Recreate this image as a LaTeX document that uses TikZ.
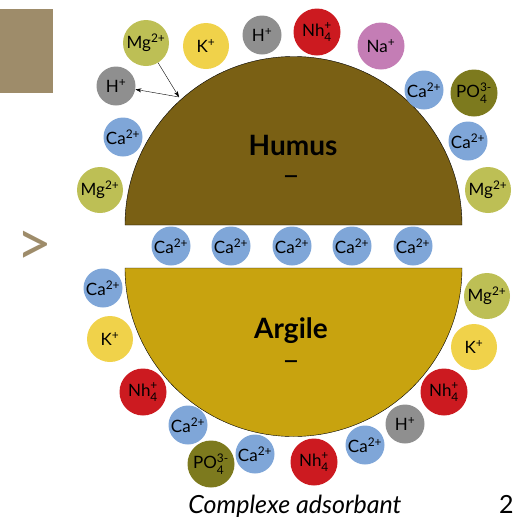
\documentclass[tikz,border=0pt]{standalone}
\usepackage{amsmath}
\usepackage{fontspec}
\setmainfont{Lato}
\usetikzlibrary{arrows.meta}
\definecolor{humusbrown}{HTML}{7A6014}
\definecolor{argilegold}{HTML}{C8A30F}
\definecolor{cablue}{HTML}{7FA6D8}
\definecolor{mggreen}{HTML}{BDBF55}
\definecolor{kyellow}{HTML}{F0D24A}
\definecolor{hgrey}{HTML}{8F8F8F}
\definecolor{nhred}{HTML}{CC1A20}
\definecolor{napink}{HTML}{C47DB5}
\definecolor{poolive}{HTML}{7D7A1E}
\definecolor{tabtan}{HTML}{9E8C6A}
\begin{document}
\begin{tikzpicture}[
        x=1pt, y=-1pt,
        ion/.style={circle, inner sep=0pt, font=\fontsize{17}{17}\selectfont},
        caion/.style={ion, fill=cablue, minimum size=39pt},
        mgion/.style={ion, fill=mggreen, minimum size=46pt},
        kion/.style={ion, fill=kyellow, minimum size=46pt},
        hion/.style={ion, fill=hgrey, minimum size=39pt},
        nhion/.style={ion, fill=nhred, minimum size=47pt},
        naion/.style={ion, fill=napink, minimum size=47pt},
        poion/.style={ion, fill=poolive, minimum size=47pt},
        title/.style={font=\fontsize{28}{28}\selectfont\bfseries, anchor=base},
        charge/.style={font=\fontsize{30}{30}\selectfont},
        exch/.style={-{Stealth[length=6pt,width=4pt]}, thin}
    ]
    \useasboundingbox (0,0) rectangle (514,517);

    \fill[tabtan] (0,9) rectangle (53,93);
    \node[text=tabtan, font=\fontsize{62}{62}\selectfont] (next) at (34,248) {>};

    \draw[fill=humusbrown, thin] (125,225) arc (180:360:168.5) -- cycle;
    \draw[fill=argilegold, thin] (125,268) arc (180:0:168.5) -- cycle;

    \node[title] (humus) at (293,155) {Humus};
    \node[charge] (humusq) at (291,181) {–};
    \node[title] (argile) at (291,338) {Argile};
    \node[charge] (argileq) at (291,366) {–};

    \node[mgion] (mgA) at (146,43) {Mg\textsuperscript{2+}};
    \node[kion] (kA) at (206,46) {K\textsuperscript{+}};
    \node[hion] (hTop) at (262,35) {H\textsuperscript{+}};
    \node[nhion] (nhA) at (317,32) {Nh$^{\text{+}}_{\text{4}}$};
    \node[naion] (naA) at (381,46) {Na\textsuperscript{+}};
    \node[caion] (caA) at (424,90) {Ca\textsuperscript{2+}};
    \node[poion] (poA) at (474,93) {PO$^{\text{3-}}_{\text{4}}$};
    \node[caion] (caB) at (468,141) {Ca\textsuperscript{2+}};
    \node[mgion] (mgB) at (488,190) {Mg\textsuperscript{2+}};
    \node[hion] (hA) at (116,86) {H\textsuperscript{+}};
    \node[caion] (caC) at (123,137) {Ca\textsuperscript{2+}};
    \node[mgion] (mgC) at (100,190) {Mg\textsuperscript{2+}};

    \foreach \x [count=\i] in {171,231,292,352,413}
        \node[caion] (mid\i) at (\x,246) {Ca\textsuperscript{2+}};

    \node[caion] (caD) at (103,288) {Ca\textsuperscript{2+}};
    \node[kion] (kB) at (110,339) {K\textsuperscript{+}};
    \node[mgion] (mgD) at (487,296) {Mg\textsuperscript{2+}};
    \node[kion] (kC) at (474,347) {K\textsuperscript{+}};
    \node[nhion] (nhB) at (143,392) {Nh$^{\text{+}}_{\text{4}}$};
    \node[caion] (caE) at (188,425) {Ca\textsuperscript{2+}};
    \node[poion] (poB) at (211,464) {PO$^{\text{3-}}_{\text{4}}$};
    \node[caion] (caF) at (255,454) {Ca\textsuperscript{2+}};
    \node[nhion] (nhC) at (314,462) {Nh$^{\text{+}}_{\text{4}}$};
    \node[caion] (caG) at (365,445) {Ca\textsuperscript{2+}};
    \node[hion] (hB) at (405,424) {H\textsuperscript{+}};
    \node[nhion] (nhD) at (444,392) {Nh$^{\text{+}}_{\text{4}}$};

    \coordinate (site) at (179,97);
    \draw[exch] (mgA) -- (site);
    \draw[exch] (site) -- (hA);

    \node[font=\fontsize{25}{25}\selectfont\itshape, anchor=base] (caption) at (295,513) {Complexe adsorbant};
    \node[font=\fontsize{25}{25}\selectfont, anchor=base west, inner sep=0pt] (page) at (499,513) {2};
\end{tikzpicture}
\end{document}
